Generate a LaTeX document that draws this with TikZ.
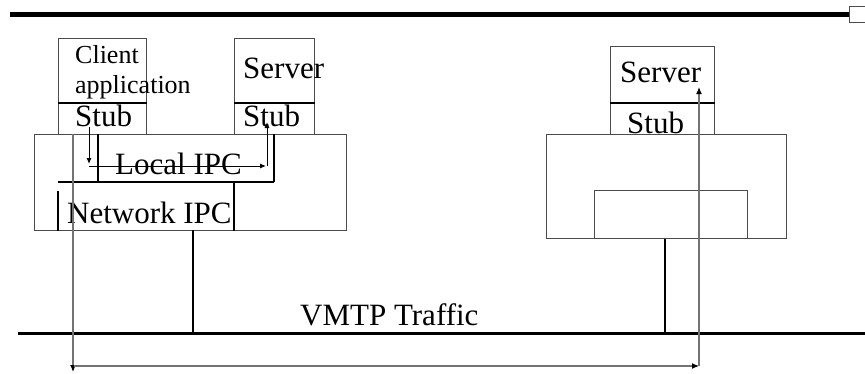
\documentclass[tikz,border=0pt]{standalone}
\usepackage{fontspec}
\setmainfont{Liberation Serif}
\usetikzlibrary{positioning, calc, arrows.meta}

\begin{document}
\begin{tikzpicture}[x=1pt, y=-1pt,
    box/.style={draw=black!70, line width=0.9pt, inner sep=0pt, anchor=north west},
    heavy/.style={line width=2pt},
    txt/.style={inner sep=0pt, anchor=base west, font=\fontsize{31}{31}\selectfont},
    smalltxt/.style={inner sep=0pt, anchor=base west, font=\fontsize{26}{26}\selectfont},
    flow/.style={draw=black!55, line width=1.2pt, -{Latex[length=7pt,width=6pt,color=black]}},
    call/.style={line width=1pt, -{Latex[length=6pt,width=5pt]}}]
    \useasboundingbox (0,0) rectangle (865,373);

    % Banner at the top
    \draw[line width=5pt] (10,14) -- (849,14);
    \draw[draw=black!70, line width=0.9pt] (849,6) rectangle (870,22);

    % Client host: application, server and their stubs
    \node (capp) [box, minimum width=88pt, minimum height=64pt] at (58,38) {};
    \node (cstub) [box, minimum width=88pt, minimum height=32pt] at (58,102) {};
    \node (lsrv) [box, minimum width=80pt, minimum height=64pt] at (234,38) {};
    \node (lstub) [box, minimum width=80pt, minimum height=32pt] at (234,102) {};
    \node (lhost) [box, minimum width=312pt, minimum height=96pt] at (34,134) {};
    \draw[heavy] (capp.south west) -- (capp.south east);
    \draw[heavy] (lsrv.south west) -- (lsrv.south east);

    % Local IPC and Network IPC frames
    \draw[heavy] ($(lhost.north west)+(64,0)$) -- ++(0,48) coordinate (lipc);
    \draw[heavy] ($(lhost.north west)+(240,0)$) -- ++(0,48) coordinate (ripc);
    \draw[heavy] ($(lhost.north west)+(24,48)$) -- (ripc);
    \draw[heavy] ($(lhost.south west)+(24,0)$) -- ++(0,-40);
    \draw[heavy] ($(lhost.south west)+(200,0)$) -- ++(0,-48);

    \node[smalltxt] (clientlbl) at (75,63) {Client};
    \node[smalltxt] (applbl) at (75,93) {application};
    \node[txt] (lsrvlbl) at (243,78) {Server};
    \node[txt] (cstublbl) at (75,126) {Stub};
    \node[txt] (lstublbl) at (243,126) {Stub};
    \node[txt] (localipc) at (115,174) {Local IPC};
    \node[txt] (netipc) at (67,223) {Network IPC};

    % Remote host
    \node (rsrv) [box, minimum width=104pt, minimum height=56pt] at (610,46) {};
    \node (rstub) [box, minimum width=104pt, minimum height=32pt] at (610,102) {};
    \draw[heavy] (rsrv.south west) -- (rsrv.south east);
    \node[txt] (rsrvlbl) at (620,82) {Server};
    \node[txt] (rstublbl) at (627,133) {Stub};
    \node (rhost) [box, minimum width=240pt, minimum height=104pt] at (546,134) {};
    \node (rnet) [box, minimum width=153pt, minimum height=48pt] at (594,190) {};

    % Network bus and taps
    \draw[line width=3pt] (18,333) coordinate (busl) -- (865,333) coordinate (busr);
    \draw[line width=1.5pt] (193,230) -- (193,333);
    \draw[line width=1.5pt] (rnet.south -| 665,0) -- (665,333);
    \node[txt] (vmtp) at (300,325) {VMTP Traffic};

    % Local call path
    \coordinate (c1) at (89,127);
    \coordinate (c2) at (89,164);
    \coordinate (c3) at (89,166);
    \coordinate (c4) at (266,166);
    \coordinate (c5) at (267,166);
    \coordinate (c6) at (267,122);
    \draw[call] (c1) -- (c2);
    \draw[call] (c3) -- (c4);
    \draw[call] (c5) -- (c6);

    % Remote call path
    \coordinate (r1) at (73,134);
    \coordinate (r2) at (73,372);
    \coordinate (r3) at (74,366);
    \coordinate (r4) at (699,366);
    \coordinate (r5) at (699,87);
    \draw[flow] (r1) -- (r2);
    \draw[flow] (r3) -- (r4);
    \draw[flow] (r4) -- (r5);
\end{tikzpicture}
\end{document}
